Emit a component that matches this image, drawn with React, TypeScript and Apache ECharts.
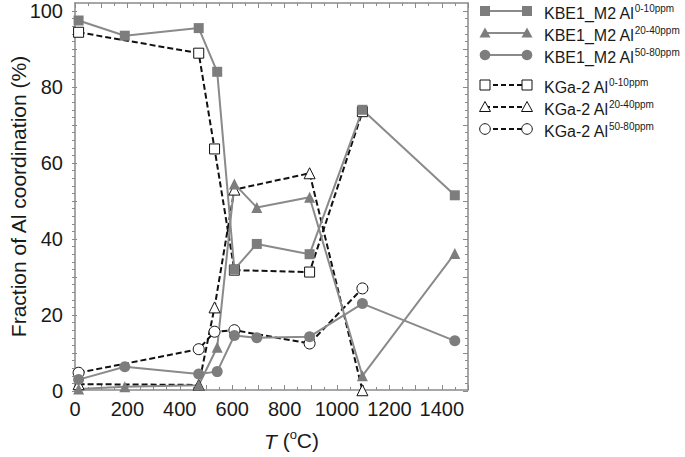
import React, { useEffect, useRef } from 'react';
import * as echarts from 'echarts';

// ---- Data ----
const kbeTemps = [25, 200, 480, 550, 615, 700, 900, 1100, 1450];
const kbeAl0_10 = [97.5, 93.5, 95.5, 84, 32, 38.7, 36, 74, 51.5];
const kbeAl20_40 = [0.5, 1.1, 1.5, 11.5, 54.5, 48.3, 51, 4, 36.2];
const kbeAl50_80 = [3, 6.4, 4.5, 5.1, 14.6, 14, 14.3, 23, 13.2];

const kgaTemps = [25, 480, 540, 615, 900, 1100];
const kgaAl0_10 = [94.4, 88.9, 63.7, 31.8, 31.3, 73.5];
const kgaAl20_40 = [1.8, 1.6, 22, 53, 57.3, 0.2];
const kgaAl50_80 = [4.8, 11, 15.6, 16, 12.5, 27];

const xTickLabels = [0, 200, 400, 600, 800, 1000, 1200, 1400];
const yTickLabels = [0, 20, 40, 60, 80, 100];

const FONT = '"Liberation Sans", Arial, Helvetica, sans-serif';
const GRAY_LINE = '#8a8a8a';
const GRAY_FILL = '#7d7d7d';
const AXIS = '#8a8a8a';
const TEXT = '#1a1a1a';

type Spec = {
  name: string;
  base: string;
  sup: string;
  temps: number[];
  values: number[];
  symbol: 'rect' | 'triangle' | 'circle';
  filled: boolean;
};

const kbeSpecs: Spec[] = [
  { name: 'KBE1_M2 Al0-10ppm', base: 'KBE1_M2 Al', sup: '0-10ppm', temps: kbeTemps, values: kbeAl0_10, symbol: 'rect', filled: true },
  { name: 'KBE1_M2 Al20-40ppm', base: 'KBE1_M2 Al', sup: '20-40ppm', temps: kbeTemps, values: kbeAl20_40, symbol: 'triangle', filled: true },
  { name: 'KBE1_M2 Al50-80ppm', base: 'KBE1_M2 Al', sup: '50-80ppm', temps: kbeTemps, values: kbeAl50_80, symbol: 'circle', filled: true },
];
const kgaSpecs: Spec[] = [
  { name: 'KGa-2 Al0-10ppm', base: 'KGa-2 Al', sup: '0-10ppm', temps: kgaTemps, values: kgaAl0_10, symbol: 'rect', filled: false },
  { name: 'KGa-2 Al20-40ppm', base: 'KGa-2 Al', sup: '20-40ppm', temps: kgaTemps, values: kgaAl20_40, symbol: 'triangle', filled: false },
  { name: 'KGa-2 Al50-80ppm', base: 'KGa-2 Al', sup: '50-80ppm', temps: kgaTemps, values: kgaAl50_80, symbol: 'circle', filled: false },
];

const symbolSize = (s: Spec) => (s.symbol === 'rect' ? (s.filled ? 10 : 10) : 11);

function makeSeries(s: Spec) {
  return {
    type: 'line',
    name: s.name,
    xAxisIndex: 2,
    yAxisIndex: 2,
    data: s.temps.map((t, i) => [t, s.values[i]]),
    symbol: s.symbol,
    symbolSize: symbolSize(s),
    showAllSymbol: true,
    clip: false,
    lineStyle: s.filled
      ? { color: GRAY_LINE, width: 2, type: 'solid' }
      : { color: '#111111', width: 2, type: [6, 3] },
    itemStyle: s.filled
      ? { color: GRAY_FILL, borderWidth: 0 }
      : { color: '#ffffff', borderColor: '#111111', borderWidth: 1 },
    emphasis: { disabled: true },
  };
}

function legendMarker(s: Spec, cx: number, cy: number) {
  const style = s.filled
    ? { fill: GRAY_FILL, stroke: null, lineWidth: 0 }
    : { fill: '#ffffff', stroke: '#111111', lineWidth: 1 };
  if (s.symbol === 'rect') {
    return { type: 'rect', shape: { x: cx - 5, y: cy - 5, width: 10, height: 10 }, style };
  }
  if (s.symbol === 'circle') {
    return { type: 'circle', shape: { cx, cy, r: 5.3 }, style };
  }
  return {
    type: 'polygon',
    shape: { points: [[cx, cy - 5.5], [cx + 5.5, cy + 4.5], [cx - 5.5, cy + 4.5]] },
    style,
  };
}

function buildLegend() {
  const rows = [...kbeSpecs, ...kgaSpecs];
  const ys = [11, 33, 55, 85, 107, 129];
  const x1 = 485;
  const x2 = 527;
  const elements: any[] = [];
  rows.forEach((s, i) => {
    const y = ys[i];
    elements.push({
      type: 'line',
      shape: { x1, y1: y, x2, y2: y },
      style: s.filled
        ? { stroke: GRAY_LINE, lineWidth: 2 }
        : { stroke: '#111111', lineWidth: 2, lineDash: [5, 3] },
    });
    elements.push(legendMarker(s, x1, y));
    elements.push(legendMarker(s, x2, y));
    elements.push({
      type: 'text',
      x: 544,
      y: y + 1,
      style: {
        text: `{a|${s.base}}{s|${s.sup}}`,
        fill: TEXT,
        verticalAlign: 'middle',
        rich: {
          a: { fontSize: 16, fontFamily: FONT, lineHeight: 18, verticalAlign: 'bottom', fill: TEXT },
          s: { fontSize: 10, fontFamily: FONT, lineHeight: 10, verticalAlign: 'top', fill: TEXT },
        },
      },
    });
  });
  return elements;
}

const baseAxisLine = { show: true, onZero: false, lineStyle: { color: AXIS, width: 1.5 } };

export default function App() {
  const ref = useRef<HTMLDivElement>(null);

  useEffect(() => {
    if (!ref.current) return;
    const chart = echarts.init(ref.current, undefined, { renderer: 'svg' });
    const gridPos = { left: 72, right: 217 };
    const option: any = {
      animation: false,
      backgroundColor: '#ffffff',
      textStyle: { fontFamily: FONT },
      grid: [
        { ...gridPos, top: 3, bottom: 61 },
        { ...gridPos, top: 11, bottom: 66 },
      ],
      xAxis: [
        {
          gridIndex: 0,
          type: 'value',
          min: 0,
          max: 1500,
          interval: 100,
          position: 'bottom',
          axisLine: baseAxisLine,
          axisTick: { show: true, inside: true, length: 5, lineStyle: { color: AXIS, width: 1 } },
          minorTick: { show: true, splitNumber: 2, length: 3, lineStyle: { color: AXIS, width: 1 } },
          splitLine: { show: false },
          axisLabel: {
            margin: 9,
            fontSize: 20,
            color: TEXT,
            fontFamily: FONT,
            formatter: (v: number) => (xTickLabels.includes(v) ? String(v) : ''),
          },
          name: '{i|T} ({s|o}C)',
          nameLocation: 'middle',
          nameGap: 38,
          nameTextStyle: {
            fontSize: 21,
            color: TEXT,
            fontFamily: FONT,
            padding: [0, 0, 0, 40],
            rich: {
              i: { fontSize: 21, fontStyle: 'italic', color: TEXT, fontFamily: FONT, lineHeight: 24, verticalAlign: 'bottom' },
              s: { fontSize: 13, color: TEXT, fontFamily: FONT, lineHeight: 13, verticalAlign: 'top' },
            },
          },
        },
        {
          gridIndex: 0,
          type: 'value',
          min: 0,
          max: 1500,
          interval: 100,
          position: 'top',
          axisLine: baseAxisLine,
          axisTick: { show: true, inside: true, length: 5, lineStyle: { color: AXIS, width: 1 } },
          minorTick: { show: true, splitNumber: 2, length: 3, lineStyle: { color: AXIS, width: 1 } },
          splitLine: { show: false },
          axisLabel: { show: false },
        },
        {
          gridIndex: 1,
          type: 'value',
          min: 0,
          max: 1500,
          show: false,
        },
      ],
      yAxis: [
        {
          gridIndex: 0,
          type: 'value',
          min: -1.5,
          max: 102,
          position: 'left',
          axisLine: baseAxisLine,
          axisTick: { show: false },
          axisLabel: { show: false },
          splitLine: { show: false },
          name: 'Fraction of Al coordination (%)',
          nameLocation: 'middle',
          nameGap: 46,
          nameTextStyle: { fontSize: 21, color: TEXT, fontFamily: FONT },
        },
        {
          gridIndex: 0,
          type: 'value',
          min: -1.5,
          max: 102,
          position: 'right',
          axisLine: baseAxisLine,
          axisTick: { show: false },
          axisLabel: { show: false },
          splitLine: { show: false },
        },
        {
          gridIndex: 1,
          type: 'value',
          min: 0,
          max: 100,
          interval: 10,
          position: 'left',
          axisLine: { show: false },
          axisTick: { show: true, inside: true, length: 5, lineStyle: { color: AXIS, width: 1 } },
          minorTick: { show: true, splitNumber: 5, length: 3, lineStyle: { color: AXIS, width: 1 } },
          splitLine: { show: false },
          axisLabel: {
            margin: 9,
            fontSize: 20,
            color: TEXT,
            fontFamily: FONT,
            formatter: (v: number) => (yTickLabels.includes(v) ? String(v) : ''),
          },
        },
        {
          gridIndex: 1,
          type: 'value',
          min: 0,
          max: 100,
          interval: 10,
          position: 'right',
          axisLine: { show: false },
          axisTick: { show: true, inside: true, length: 5, lineStyle: { color: AXIS, width: 1 } },
          minorTick: { show: true, splitNumber: 5, length: 3, lineStyle: { color: AXIS, width: 1 } },
          splitLine: { show: false },
          axisLabel: { show: false },
        },
      ],
      series: [...kgaSpecs.map(makeSeries), ...kbeSpecs.map(makeSeries)],
      graphic: buildLegend(),
    };
    chart.setOption(option);
    return () => chart.dispose();
  }, []);

  return (
    <div
      ref={ref}
      style={{ position: 'fixed', left: 0, top: 0, width: 685, height: 457 }}
    />
  );
}
